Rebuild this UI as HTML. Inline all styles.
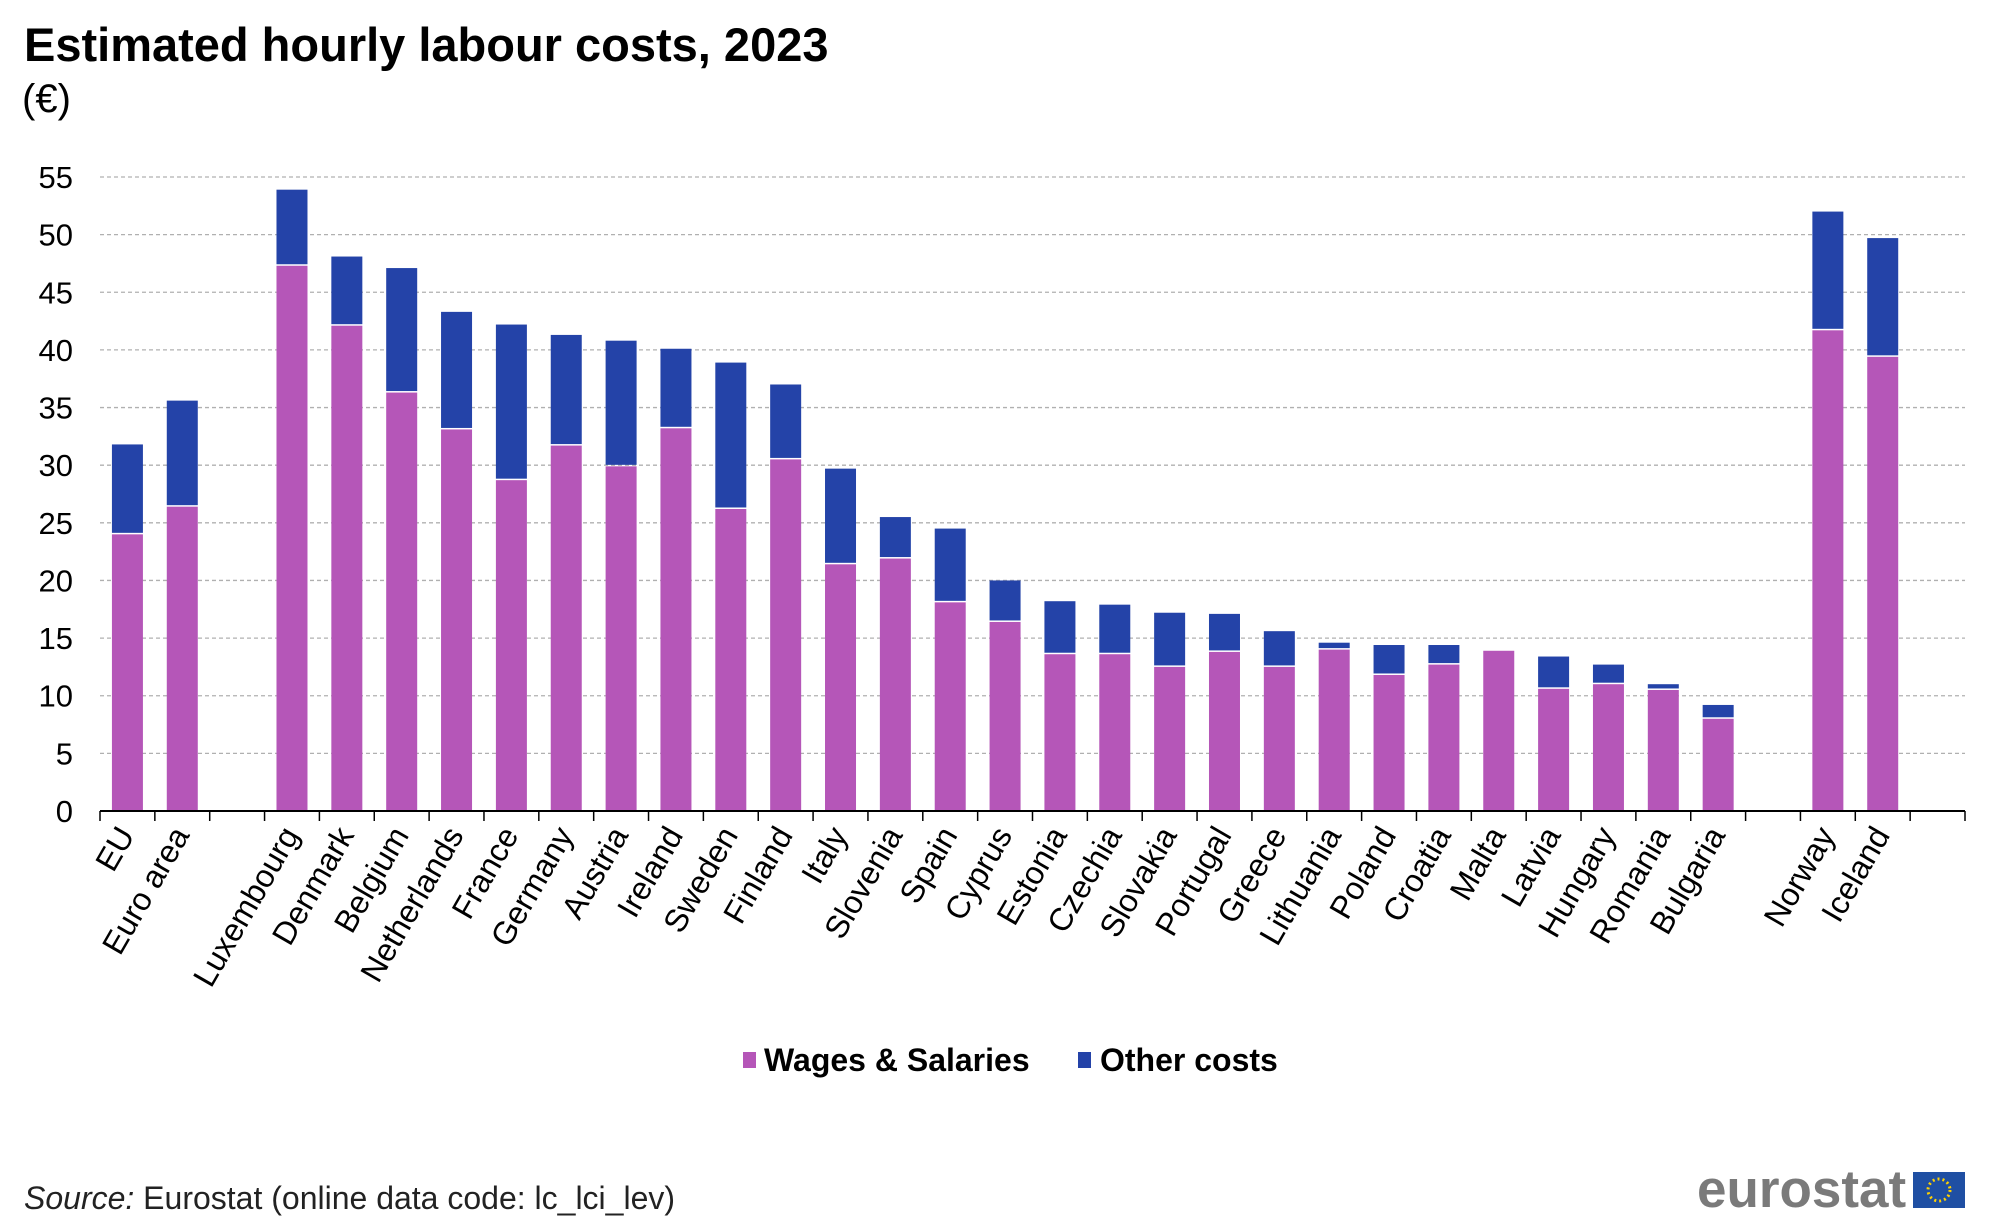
<!DOCTYPE html>
<html><head><meta charset="utf-8"><style>
body{margin:0;background:#fff;width:2000px;height:1225px;overflow:hidden;font-family:"Liberation Sans",Arial,sans-serif}
svg text{font-family:"Liberation Sans",Arial,sans-serif}
</style></head><body>
<svg id="chart" width="2000" height="1225">
<text x="24" y="61" font-size="47" font-weight="bold" fill="#000">Estimated hourly labour costs, 2023</text>
<text x="22" y="112" font-size="40" fill="#000">(€)</text>
<g id="grid"></g><g id="bars"></g><g id="axis"></g>
<g>
<rect x="743" y="1052" width="13" height="16" fill="#b556b8"/>
<text x="764" y="1071" font-size="32" font-weight="bold">Wages &amp; Salaries</text>
<rect x="1078" y="1052" width="13" height="16" fill="#2443a8"/>
<text x="1100" y="1071" font-size="32" font-weight="bold">Other costs</text>
</g>
<text x="24" y="1209" font-size="32" fill="#222"><tspan font-style="italic">Source:</tspan> Eurostat (online data code: lc_lci_lev)</text>
<g>
<text x="1697" y="1207" font-size="53" font-weight="bold" fill="#7a7a7a">eurostat</text>
<rect x="1913" y="1172" width="52" height="36" fill="#1f4fa3"/>
<circle cx="1939" cy="1190" r="11" fill="none" stroke="#ffd200" stroke-width="3" stroke-dasharray="2 3"/>
</g>
</svg>
<script>
const categories=["EU","Euro area","","Luxembourg","Denmark","Belgium","Netherlands","France","Germany","Austria","Ireland","Sweden","Finland","Italy","Slovenia","Spain","Cyprus","Estonia","Czechia","Slovakia","Portugal","Greece","Lithuania","Poland","Croatia","Malta","Latvia","Hungary","Romania","Bulgaria","","Norway","Iceland",""];
const wages=[24.0,26.4,null,47.3,42.1,36.3,33.1,28.7,31.7,29.9,33.2,26.2,30.5,21.4,21.9,18.1,16.4,13.6,13.6,12.5,13.8,12.5,14.0,11.8,12.7,13.9,10.6,11.0,10.5,8.0,null,41.7,39.4,null];
const other=[7.8,9.2,null,6.6,6.0,10.8,10.2,13.5,9.6,10.9,6.9,12.7,6.5,8.3,3.6,6.4,3.6,4.6,4.3,4.7,3.3,3.1,0.6,2.6,1.7,0.05,2.8,1.7,0.5,1.2,null,10.3,10.3,null];
const ticks=[0,5,10,15,20,25,30,35,40,45,50,55];
const NS="http://www.w3.org/2000/svg";
const L=100,R=1965,T=177,B=811,maxV=55;
const slot=(R-L)/categories.length;
const y=v=>B-(v/maxV)*(B-T);
const xc=i=>L+slot*(i+0.5);
function mk(t,a,p){const e=document.createElementNS(NS,t);for(const k in a)e.setAttribute(k,a[k]);p.appendChild(e);return e;}
const grid=document.getElementById('grid'),bars=document.getElementById('bars'),axis=document.getElementById('axis');
ticks.forEach(t=>{
 if(t>0){const g=mk('line',{x1:L,x2:R,y1:y(t),y2:y(t),stroke:'#b0b0b0','stroke-dasharray':'4 3','stroke-width':1.3},grid);
 
 }
 const tx=mk('text',{x:L-27,y:y(t)+11,'font-size':31,'text-anchor':'end',fill:'#000'},axis);
 tx.textContent=t;
 
 
});
const bw=31;
categories.forEach((c,i)=>{
 if(wages[i]!=null){
  const w=wages[i],o=other[i];
  const r1=mk('rect',{x:xc(i)-bw/2,y:y(w),width:bw,height:B-y(w),fill:'#b556b8'},bars);
  
  
  const r2=mk('rect',{x:xc(i)-bw/2,y:y(w+o),width:bw,height:Math.max(0,y(w)-y(w+o)-1.5),fill:'#2443a8'},bars);
  
  
 }
 if(c){const tx=mk('text',{x:0,y:0,'font-size':32,'text-anchor':'end',fill:'#000',transform:`translate(${xc(i)+8},${B+24}) rotate(-60)`},axis);
 tx.textContent=c;
 
 }
});
for(let i=0;i<=categories.length;i++){const tk=mk('line',{x1:L+slot*i,x2:L+slot*i,y1:B,y2:B+10,stroke:'#000','stroke-width':1.5},axis);
 
 }
const ax=mk('line',{x1:L,x2:R,y1:B,y2:B,stroke:'#000','stroke-width':2},axis);


</script>
</body></html>
